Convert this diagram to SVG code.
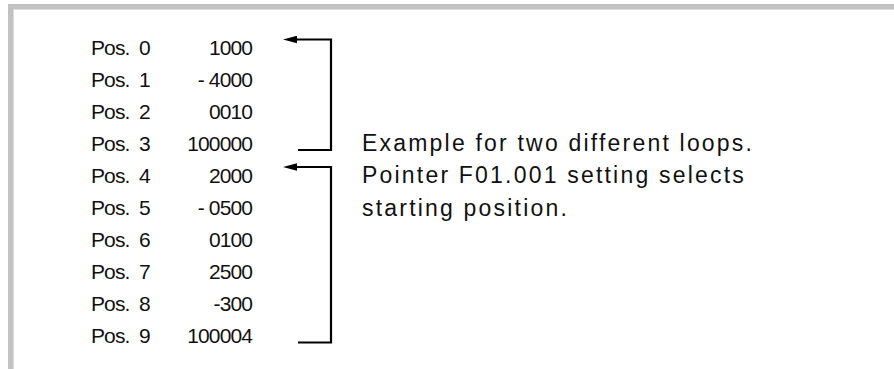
<svg xmlns="http://www.w3.org/2000/svg" width="894" height="369" viewBox="0 0 894 369">
<style>
.lbl{font-family:"Liberation Sans",Arial,sans-serif;font-size:21px;fill:#111;letter-spacing:-0.9px}
.num{font-family:"Liberation Sans",Arial,sans-serif;font-size:21px;fill:#111;letter-spacing:-0.9px;text-anchor:end}
.note{font-family:"Liberation Sans",Arial,sans-serif;font-size:23px;fill:#111;letter-spacing:2.2px}
.br{fill:none;stroke:#000;stroke-width:2.2}
</style>
<defs>
<marker id="ah" markerUnits="userSpaceOnUse" markerWidth="14" markerHeight="8" viewBox="0 0 13 7" refX="0" refY="3.5" orient="auto">
<path d="M0,0 L13,3.5 L0,7 z" fill="#000"/>
</marker>
</defs>
<rect width="894" height="369" fill="#fff"/>
<g id="frame">
<rect x="8" y="4" width="886" height="5.5" fill="#c2c2c2"/>
<rect x="8" y="4" width="5.5" height="365" fill="#c2c2c2"/>
<line x1="13.5" y1="9.5" x2="894" y2="9.5" stroke="#dcdcdc" stroke-width="1"/>
<line x1="13.5" y1="9.5" x2="13.5" y2="369" stroke="#dcdcdc" stroke-width="1"/>
</g>
<g id="pos0"><text class="lbl" x="91" y="54.5">Pos. <tspan x="139">0</tspan></text><text class="num" x="252" y="54.5">1000</text></g>
<g id="pos1"><text class="lbl" x="91" y="86.5">Pos. <tspan x="139">1</tspan></text><text class="num" x="252" y="86.5">- 4000</text></g>
<g id="pos2"><text class="lbl" x="91" y="118.5">Pos. <tspan x="139">2</tspan></text><text class="num" x="252" y="118.5">0010</text></g>
<g id="pos3"><text class="lbl" x="91" y="150.5">Pos. <tspan x="139">3</tspan></text><text class="num" x="252" y="150.5">100000</text></g>
<g id="pos4"><text class="lbl" x="91" y="182.5">Pos. <tspan x="139">4</tspan></text><text class="num" x="252" y="182.5">2000</text></g>
<g id="pos5"><text class="lbl" x="91" y="214.5">Pos. <tspan x="139">5</tspan></text><text class="num" x="252" y="214.5">- 0500</text></g>
<g id="pos6"><text class="lbl" x="91" y="246.5">Pos. <tspan x="139">6</tspan></text><text class="num" x="252" y="246.5">0100</text></g>
<g id="pos7"><text class="lbl" x="91" y="278.5">Pos. <tspan x="139">7</tspan></text><text class="num" x="252" y="278.5">2500</text></g>
<g id="pos8"><text class="lbl" x="91" y="310.5">Pos. <tspan x="139">8</tspan></text><text class="num" x="252" y="310.5">-300</text></g>
<g id="pos9"><text class="lbl" x="91" y="342.5">Pos. <tspan x="139">9</tspan></text><text class="num" x="252" y="342.5">100004</text></g>
<g id="note">
<text class="note" x="362" y="150.5">Example for two different loops.</text>
<text class="note" x="362" y="183">Pointer F01.001 setting selects</text>
<text class="note" x="362" y="215.5">starting position.</text>
</g>
<g id="connectors">
<path class="br" d="M298,150 H331 V39.5 H297" marker-end="url(#ah)"/>
<path class="br" d="M298,342.5 H331 V167 H297" marker-end="url(#ah)"/>
</g>
</svg>
